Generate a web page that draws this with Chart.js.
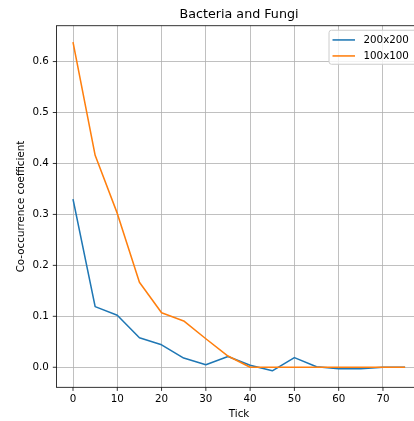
<!DOCTYPE html>
<html><head><meta charset="utf-8">
<script src="https://cdn.jsdelivr.net/npm/chart.js@4.4.1/dist/chart.umd.min.js"></script>
<style>html,body{margin:0;padding:0;overflow:hidden;background:#fff;width:414px;height:421px}</style>
</head><body>
<canvas id="c" width="440" height="421" style="display:block"></canvas>
<script>
const ticks = [0, 5, 10, 15, 20, 25, 30, 35, 40, 45, 50, 55, 60, 65, 70, 75];
const series200 = [0.330, 0.119, 0.102, 0.058, 0.044, 0.018, 0.005, 0.021, 0.004, -0.007, 0.019, 0.001, -0.003, -0.003, 0.000, 0.000];
const series100 = [0.638, 0.416, 0.302, 0.167, 0.107, 0.091, 0.056, 0.022, 0.000, 0.000, 0.000, 0.000, 0.000, 0.000, 0.000, 0.000];
const xTickValues = [0, 10, 20, 30, 40, 50, 60, 70];
const yTickValues = [0.0, 0.1, 0.2, 0.3, 0.4, 0.5, 0.6];
const labels = ['200x200', '100x100'];
const colors = ['#1f77b4', '#ff7f0e'];

const FONT = 'DejaVu Sans';
const FS = 10.3;

const frame = {
  id: 'frame',
  afterDraw(chart) {
    const {ctx, chartArea: a, scales: {x, y}} = chart;
    ctx.save();
    ctx.strokeStyle = '#000';
    ctx.lineWidth = 0.8;
    ctx.strokeRect(a.left, a.top, a.right - a.left, a.bottom - a.top);
    ctx.beginPath();
    xTickValues.forEach(v => { const p = x.getPixelForValue(v); ctx.moveTo(p, a.bottom); ctx.lineTo(p, a.bottom + 3.6); });
    yTickValues.forEach(v => { const p = y.getPixelForValue(v); ctx.moveTo(a.left, p); ctx.lineTo(a.left - 3.6, p); });
    ctx.stroke();

    // legend
    const right = a.right - 5, top = a.top + 4.5, w = 87.7, h = 34, left = right - w, r = 2.5;
    ctx.beginPath();
    ctx.moveTo(left + r, top);
    ctx.lineTo(right - r, top); ctx.arcTo(right, top, right, top + r, r);
    ctx.lineTo(right, top + h - r); ctx.arcTo(right, top + h, right - r, top + h, r);
    ctx.lineTo(left + r, top + h); ctx.arcTo(left, top + h, left, top + h - r, r);
    ctx.lineTo(left, top + r); ctx.arcTo(left, top, left + r, top, r);
    ctx.closePath();
    ctx.fillStyle = 'rgba(255,255,255,0.8)';
    ctx.fill();
    ctx.strokeStyle = '#cccccc';
    ctx.lineWidth = 1;
    ctx.stroke();
    ctx.font = FS + 'px "' + FONT + '"';
    ctx.textBaseline = 'middle';
    ctx.textAlign = 'left';
    chart.data.datasets.forEach((ds, i) => {
      const yy = top + 9.7 + i * 16;
      ctx.strokeStyle = ds.borderColor;
      ctx.lineWidth = 1.55;
      ctx.beginPath();
      ctx.moveTo(left + 3.5, yy); ctx.lineTo(left + 26, yy);
      ctx.stroke();
      ctx.fillStyle = '#000';
      ctx.fillText(ds.label, left + 34.5, yy);
    });
    ctx.restore();
  }
};

new Chart(document.getElementById('c'), {
  type: 'line',
  data: {
    datasets: [
      {label: labels[0], data: ticks.map((t, i) => ({x: t, y: series200[i]})), borderColor: colors[0], backgroundColor: colors[0], borderWidth: 1.55, pointRadius: 0, tension: 0, borderJoinStyle: 'round', order: 2},
      {label: labels[1], data: ticks.map((t, i) => ({x: t, y: series100[i]})), borderColor: colors[1], backgroundColor: colors[1], borderWidth: 1.55, pointRadius: 0, tension: 0, borderJoinStyle: 'round', order: 1}
    ]
  },
  options: {
    responsive: false,
    animation: false,
    devicePixelRatio: 1,
    layout: {padding: {top: 0, left: 0, right: 18.3, bottom: 0}},
    plugins: {
      legend: {display: false},
      tooltip: {enabled: false},
      title: {display: true, text: 'Bacteria and Fungi', fullSize: false, color: '#000',
        font: {family: FONT, size: 12.7, weight: 'normal'}, padding: {top: 6.6, bottom: 3.9}}
    },
    scales: {
      x: {
        type: 'linear', min: -3.75, max: 78.75,
        afterBuildTicks: s => { s.ticks = xTickValues.map(v => ({value: v})); },
        afterFit: s => { s.height = 33.7; },
        grid: {color: '#b0b0b0', lineWidth: 0.8, drawTicks: false},
        border: {display: false},
        ticks: {color: '#000', font: {family: FONT, size: FS}, padding: 5.8, maxRotation: 0, callback: v => String(v)},
        title: {display: true, text: 'Tick', color: '#000', font: {family: FONT, size: FS}, padding: {top: 0, bottom: 0.8}}
      },
      y: {
        type: 'linear', min: -0.0393, max: 0.6703,
        afterBuildTicks: s => { s.ticks = yTickValues.map(v => ({value: v})); },
        afterFit: s => { s.width = 56.4; },
        grid: {color: '#b0b0b0', lineWidth: 0.8, drawTicks: false},
        border: {display: false},
        ticks: {color: '#000', font: {family: FONT, size: FS}, padding: 7.5, callback: v => Number(v).toFixed(1)},
        title: {display: true, text: 'Co-occurrence coefficient', color: '#000', font: {family: FONT, size: FS}, padding: {top: 14.8, bottom: 0}}
      }
    }
  },
  plugins: [frame]
});
</script>
</body></html>
